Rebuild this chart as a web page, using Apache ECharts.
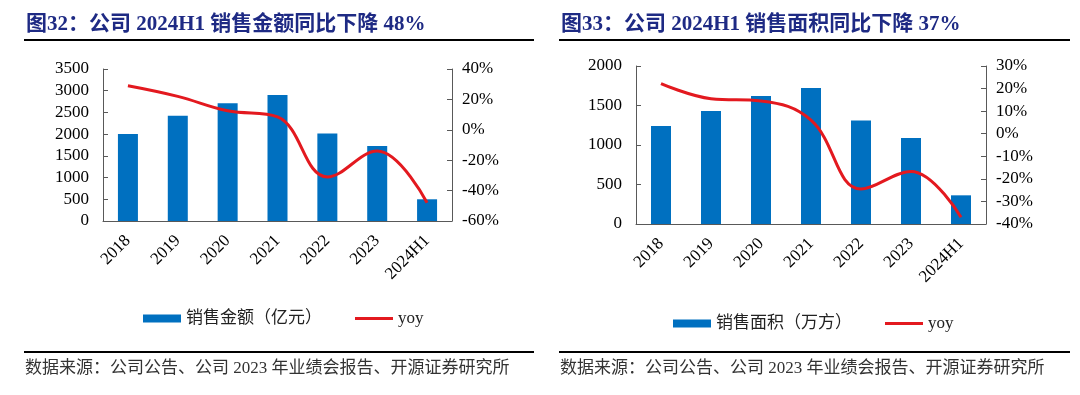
<!DOCTYPE html>
<html>
<head>
<meta charset="utf-8">
<script src="https://cdn.jsdelivr.net/npm/echarts@6/dist/echarts.min.js"></script>
<style>
html,body{margin:0;padding:0;background:#fff;}
#chart{width:1080px;height:395px;}
</style>
</head>
<body>
<div id="chart"></div>
<script>
const categories = ['2018', '2019', '2020', '2021', '2022', '2023', '2024H1'];
const salesAmount = [2005, 2425, 2710, 2900, 2015, 1725, 500];
const amountYoy = [29, 22, 12.5, 8.5, -31, -14, -48];
const salesArea = [1240, 1430, 1620, 1720, 1310, 1090, 363];
const areaYoy = [22.2, 15.5, 14.5, 6, -24.5, -16.7, -37];

const leftTitle = '图32：公司 2024H1 销售金额同比下降 48%';
const rightTitle = '图33：公司 2024H1 销售面积同比下降 37%';
const sourceText = '数据来源：公司公告、公司 2023 年业绩会报告、开源证券研究所';
const amountName = '销售金额（亿元）';
const areaName = '销售面积（万方）';
const yoyName = 'yoy';

const FONT = '"Liberation Serif", "Noto Sans CJK SC", serif';
const AX = '#595959';
const BAR = '#0070C0';
const RED = '#E3191F';
const NAVY = '#1E2A84';
const LINE_ICON = 'path://M0,0L0,0M0,2.6L38,2.6L38,5.4L0,5.4ZM0,8L0,8';

function xAxis(grid) {
  return {
    gridIndex: grid, type: 'category', data: categories,
    axisLine: { lineStyle: { color: AX, width: 1 } },
    axisTick: { inside: true, length: 5, lineStyle: { color: AX } },
    axisLabel: { rotate: 45, interval: 0, fontSize: 17, fontFamily: FONT, color: '#000', margin: 17 }
  };
}
function yAxis(grid, pos, min, max, interval, pct, margin) {
  return {
    gridIndex: grid, type: 'value', position: pos, min: min, max: max, interval: interval,
    axisLine: { show: true, lineStyle: { color: AX, width: 1 } },
    axisTick: { show: true, inside: true, length: 5, lineStyle: { color: AX } },
    splitLine: { show: false },
    axisLabel: { fontSize: 17, fontFamily: FONT, color: '#000', margin: margin,
      formatter: function (v) { return pct ? (v + '%') : String(v); } }
  };
}
function rule(x1, x2, y) {
  return { type: 'line', shape: { x1: x1, y1: y, x2: x2, y2: y }, style: { stroke: '#000', lineWidth: 2 } };
}

const chart = echarts.init(document.getElementById('chart'), null, { renderer: 'canvas' });
chart.setOption({
  animation: false,
  backgroundColor: '#fff',
  grid: [
    { left: 103, top: 69, width: 349, height: 152 },
    { left: 636, top: 66, width: 350, height: 158 }
  ],
  xAxis: [xAxis(0), xAxis(1)],
  yAxis: [
    yAxis(0, 'left', 0, 3500, 500, false, 14),
    yAxis(0, 'right', -60, 40, 20, true, 10),
    yAxis(1, 'left', 0, 2000, 500, false, 14),
    yAxis(1, 'right', -40, 30, 10, true, 10)
  ],
  legend: [
    {
      left: 143, top: 310, padding: 0, itemWidth: 38, itemHeight: 8, itemGap: 33,
      textStyle: { fontSize: 17, fontFamily: FONT, color: '#222' },
      data: [{ name: amountName, icon: 'rect' }, { name: yoyName, icon: LINE_ICON }]
    },
    {
      left: 673, top: 315, padding: 0, itemWidth: 38, itemHeight: 8, itemGap: 33,
      textStyle: { fontSize: 17, fontFamily: FONT, color: '#222' },
      data: [{ name: areaName, icon: 'rect' }, { name: yoyName, icon: LINE_ICON }]
    }
  ],
  series: [
    { name: amountName, type: 'bar', xAxisIndex: 0, yAxisIndex: 0, data: salesAmount, barWidth: 20, itemStyle: { color: BAR } },
    { name: yoyName, type: 'line', xAxisIndex: 0, yAxisIndex: 1, data: amountYoy, smooth: 0.4, symbol: 'none', lineStyle: { color: RED, width: 3 }, itemStyle: { color: RED } },
    { name: areaName, type: 'bar', xAxisIndex: 1, yAxisIndex: 2, data: salesArea, barWidth: 20, itemStyle: { color: BAR } },
    { name: yoyName, type: 'line', xAxisIndex: 1, yAxisIndex: 3, data: areaYoy, smooth: 0.4, symbol: 'none', lineStyle: { color: RED, width: 3 }, itemStyle: { color: RED } }
  ],
  graphic: [
    { type: 'text', left: 26, top: 14, style: { text: leftTitle, font: 'bold 21px ' + FONT, fill: NAVY } },
    { type: 'text', left: 561, top: 14, style: { text: rightTitle, font: 'bold 21px ' + FONT, fill: NAVY } },
    rule(24, 534, 40),
    rule(559, 1070, 40),
    rule(24, 534, 352),
    rule(559, 1070, 352),
    { type: 'text', left: 25, top: 360, style: { text: sourceText, font: '17px ' + FONT, fill: '#333' } },
    { type: 'text', left: 560, top: 360, style: { text: sourceText, font: '17px ' + FONT, fill: '#333' } }
  ]
});
</script>
</body>
</html>
